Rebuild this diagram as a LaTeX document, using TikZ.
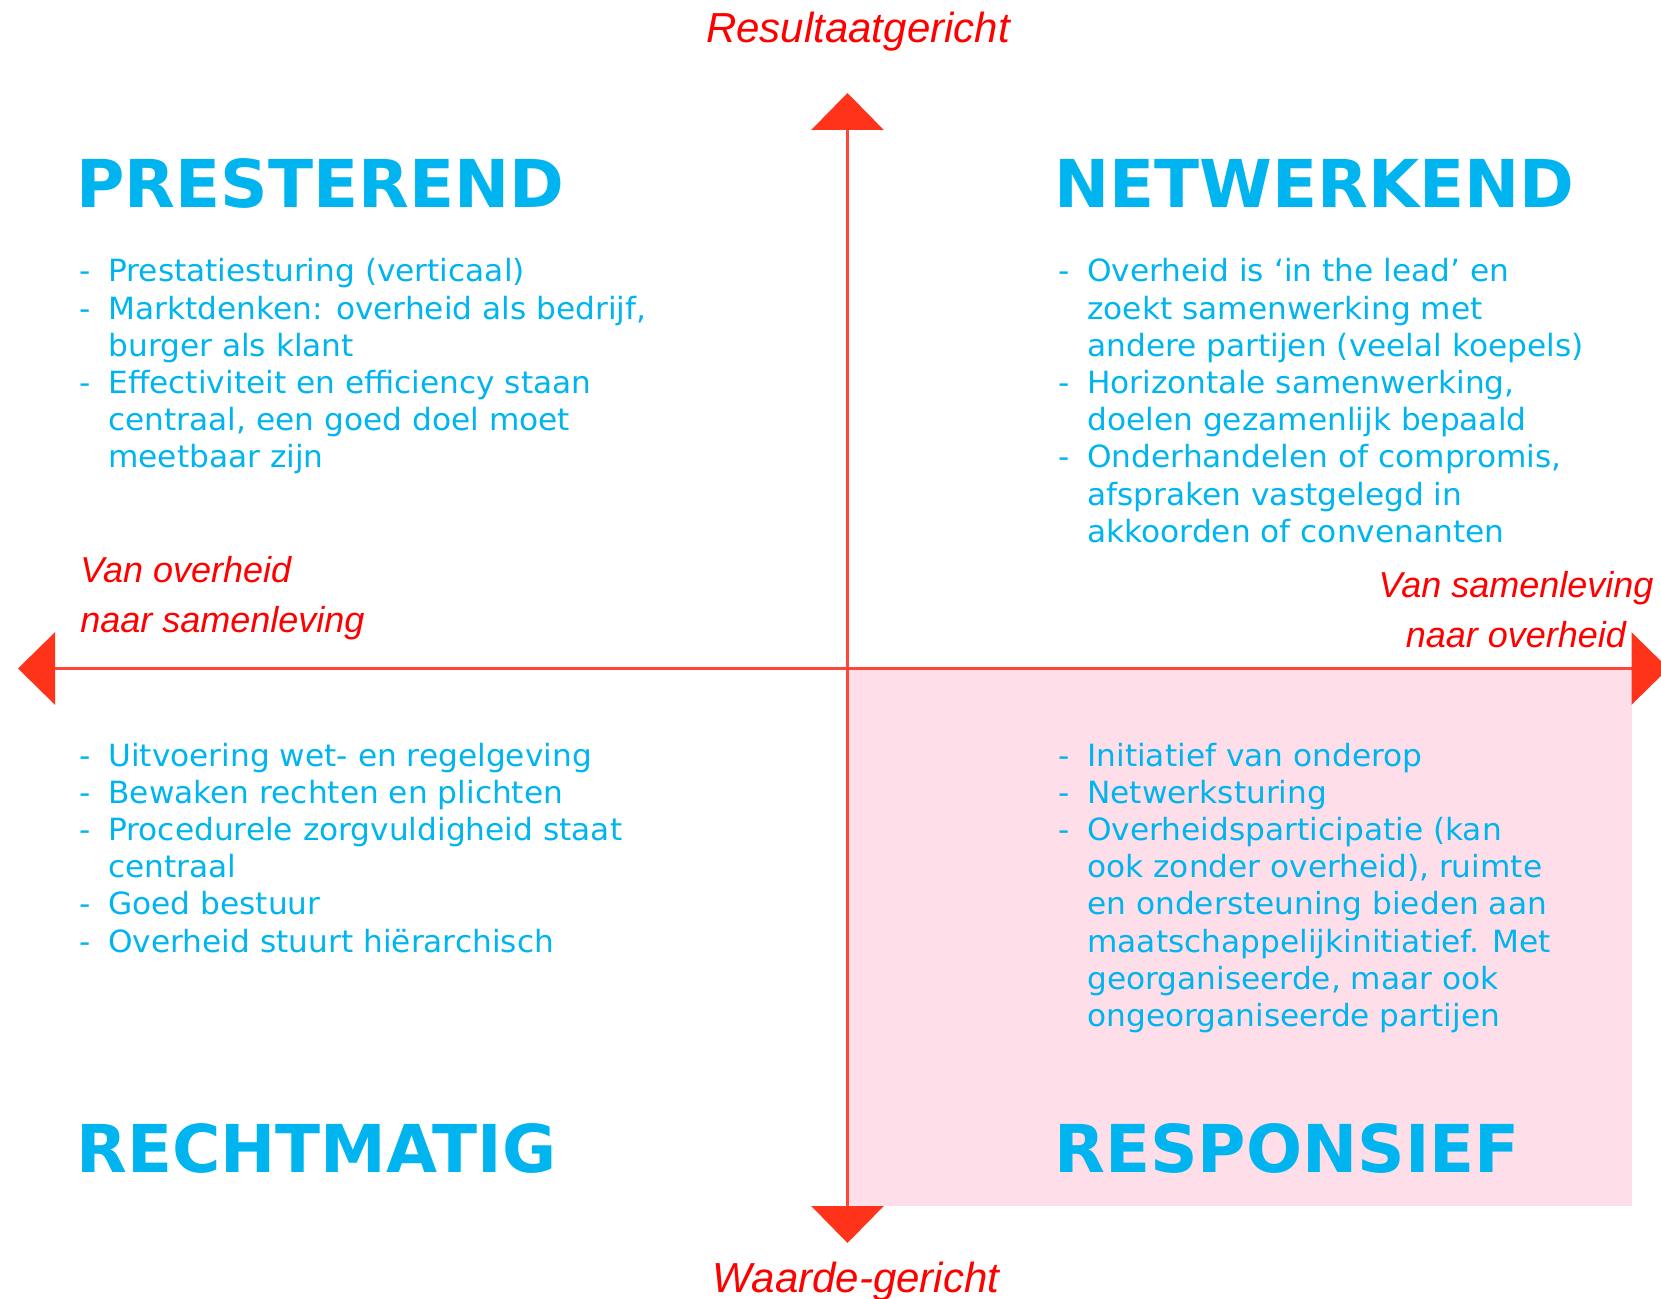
\documentclass[tikz,border=0pt]{standalone}
\usepackage{fontspec}
\usetikzlibrary{arrows.meta}
\newfontfamily\bodyfont{DejaVu Sans}[FakeStretch=1.02]
\newfontfamily\kopfont{DejaVu Sans}
\newfontfamily\axisfont{Liberation Sans}
\definecolor{kopblauw}{RGB}{0,181,239}
\definecolor{asrood}{RGB}{255,70,55}
\definecolor{pijlrood}{RGB}{255,51,26}
\definecolor{roze}{RGB}{253,222,233}
\newcommand{\li}{\makebox[14.5pt][l]{-}}
\newcommand{\ind}{\hspace*{14.5pt}}

\begin{document}
\begin{tikzpicture}[x=0.5pt,y=-0.5pt,
  kop/.style={anchor=base west,inner sep=0pt,text=kopblauw,font=\kopfont\bfseries\fontsize{33pt}{39pt}\selectfont},
  lijst/.style={anchor=base west,inner sep=0pt,text=kopblauw,font=\bodyfont\fontsize{15.3pt}{18.6pt}\selectfont},
  aslabel/.style={inner sep=0pt,text=red,font=\axisfont\itshape\fontsize{18pt}{25pt}\selectfont},
  asarrow/.style={draw=asrood,line width=1.5pt,
    {Triangle[width=36pt,length=18.5pt,fill=pijlrood,color=pijlrood]}-{Triangle[width=36pt,length=18.5pt,fill=pijlrood,color=pijlrood]}}]
\useasboundingbox (0,0) rectangle (1661,1299);
\clip (0,0) rectangle (1661,1299);
\fill[roze] (847.5,668.5) rectangle (1631.5,1206);
\coordinate (noord) at (847.5,93);
\coordinate (zuid) at (847.5,1243);
\coordinate (links) at (18,668.5);
\coordinate (rechts) at (1668.5,668.5);
\draw[asarrow] (zuid) -- (noord);
\draw[asarrow] (links) -- (rechts);
\node[aslabel,anchor=base,font=\axisfont\itshape\fontsize{21pt}{25pt}\selectfont] (resultaat) at (858,43) {Resultaatgericht};
\node[aslabel,anchor=base,font=\axisfont\itshape\fontsize{21pt}{25pt}\selectfont] (waarde) at (856,1292) {Waarde-gericht};
\node[aslabel,anchor=base west] (naarsamenleving) at (80,582)
  {\begin{tabular}[t]{@{}l@{}}Van overheid\\naar samenleving\end{tabular}};
\node[aslabel,anchor=base] (naaroverheid) at (1516,597)
  {\begin{tabular}[t]{@{}c@{}}Van samenleving\\naar overheid\end{tabular}};
\node[kop] (presterend) at (76,208) {PRESTEREND};
\node[kop] (netwerkend) at (1054,208) {NETWERKEND};
\node[kop] (rechtmatig) at (76,1172) {RECHTMATIG};
\node[kop] (responsief) at (1054,1172) {RESPONSIEF};
\node[lijst] (presterendlijst) at (79,282) {\begin{tabular}[t]{@{}l@{}}
  \li Prestatiesturing (verticaal)\\
  \li Marktdenken: overheid als bedrijf,\\
  \ind burger als klant\\
  \li Effectiviteit en efficiency staan\\
  \ind centraal, een goed doel moet\\
  \ind meetbaar zijn
  \end{tabular}};
\node[lijst] (netwerkendlijst) at (1058,282) {\begin{tabular}[t]{@{}l@{}}
  \li Overheid is ‘in the lead’ en\\
  \ind zoekt samenwerking met\\
  \ind andere partijen (veelal koepels)\\
  \li Horizontale samenwerking,\\
  \ind doelen gezamenlijk bepaald\\
  \li Onderhandelen of compromis,\\
  \ind afspraken vastgelegd in\\
  \ind akkoorden of convenanten
  \end{tabular}};
\node[lijst] (rechtmatiglijst) at (79,766) {\begin{tabular}[t]{@{}l@{}}
  \li Uitvoering wet- en regelgeving\\
  \li Bewaken rechten en plichten\\
  \li Procedurele zorgvuldigheid staat\\
  \ind centraal\\
  \li Goed bestuur\\
  \li Overheid stuurt hiërarchisch
  \end{tabular}};
\node[lijst] (responsieflijst) at (1058,766) {\begin{tabular}[t]{@{}l@{}}
  \li Initiatief van onderop\\
  \li Netwerksturing\\
  \li Overheidsparticipatie (kan\\
  \ind ook zonder overheid), ruimte\\
  \ind en ondersteuning bieden aan\\
  \ind maatschappelijkinitiatief. Met\\
  \ind georganiseerde, maar ook\\
  \ind ongeorganiseerde partijen
  \end{tabular}};
\end{tikzpicture}
\end{document}
